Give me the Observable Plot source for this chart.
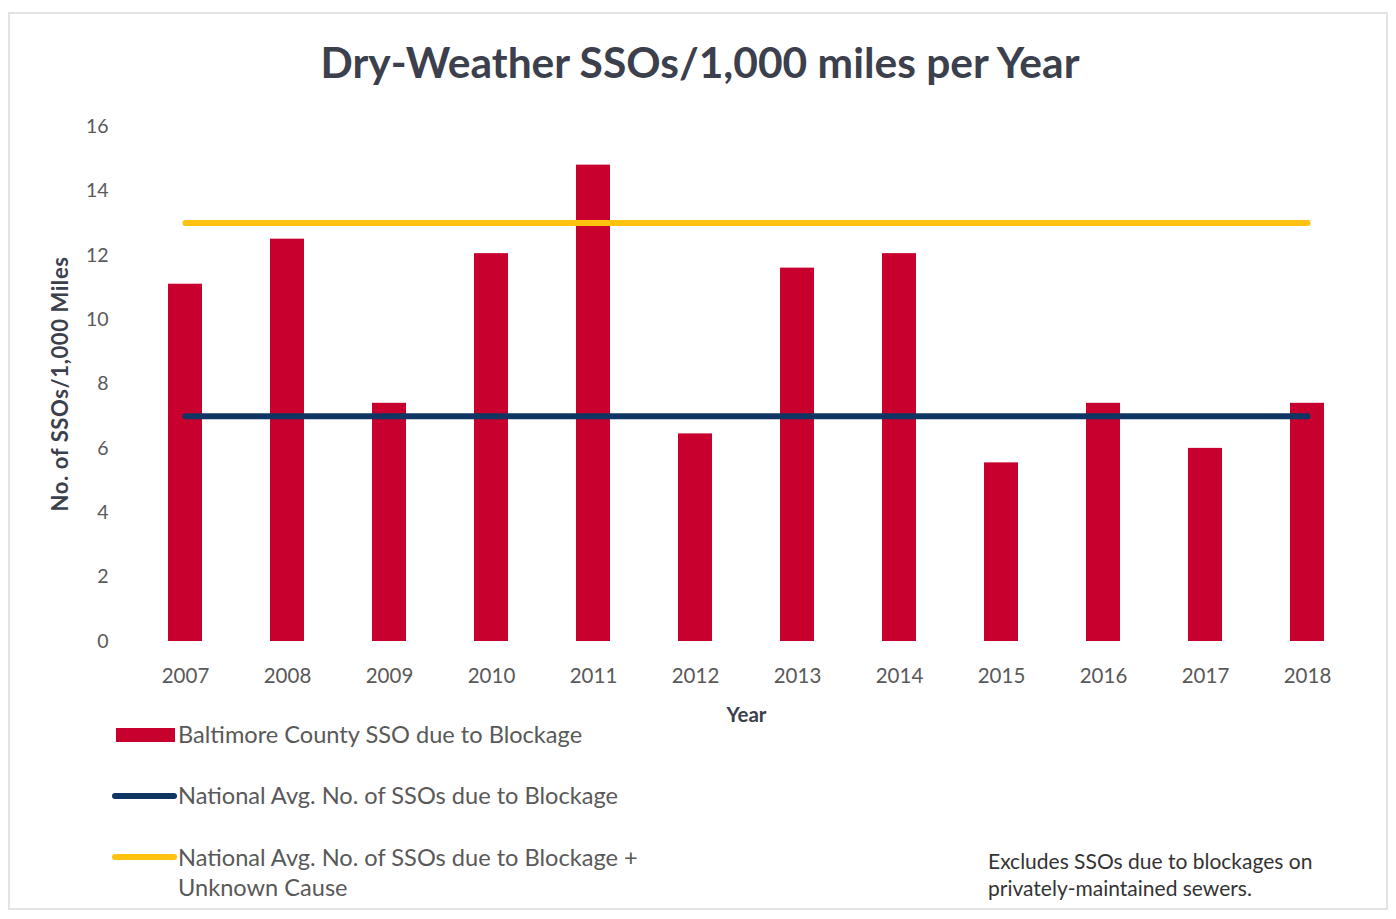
<!DOCTYPE html>
<html>
<head>
<meta charset="utf-8">
<script src="https://cdn.jsdelivr.net/npm/d3@7"></script>
<script src="https://cdn.jsdelivr.net/npm/@observablehq/plot@0.6"></script>
<style>
  html, body { margin: 0; padding: 0; background: #fff; }
  body { width: 1396px; height: 919px; position: relative; overflow: hidden; font-family: Lato, "Open Sans", sans-serif; }
  #frame { position: absolute; left: 8px; top: 12px; width: 1380px; height: 898px; border: 2px solid #e3e3e3; box-sizing: border-box; }
  #title { position: absolute; left: 0; width: 1400px; top: 36px; text-align: center; font-size: 42.5px; font-weight: bold; color: #3b404c; }
  #chart { position: absolute; left: 0; top: 100px; }
  #chart svg { overflow: visible; }
  g[aria-label="y-axis label"] text, g[aria-label="x-axis label"] text { font-weight: bold; fill: #3b404c; }
  g[aria-label="y-axis label"] text { font-size: 22px; letter-spacing: 0.6px; }
  .leg { position: absolute; font-size: 23.6px; color: #595959; line-height: 30px; }
  .sw { position: absolute; }
  #note { position: absolute; left: 988px; top: 847px; font-size: 21px; color: #333; line-height: 27px; }
</style>
</head>
<body>
<div id="frame"></div>
<div id="title">Dry-Weather SSOs/1,000 miles per Year</div>
<div id="chart"></div>

<div class="sw" style="left:116px;top:728px;width:59px;height:14px;background:#c8002d;"></div>
<div class="leg" style="left:178px;top:719px;">Baltimore County SSO due to Blockage</div>

<div class="sw" style="left:112px;top:793px;width:65px;height:6px;border-radius:3px;background:#0f3562;"></div>
<div class="leg" style="left:178px;top:780px;">National Avg. No. of SSOs due to Blockage</div>

<div class="sw" style="left:112px;top:854px;width:65px;height:6px;border-radius:3px;background:#ffc20e;"></div>
<div class="leg" style="left:178px;top:842px;">National Avg. No. of SSOs due to Blockage +<br>Unknown Cause</div>

<div id="note">Excludes SSOs due to blockages on<br>privately-maintained sewers.</div>

<script>
const years = ["2007","2008","2009","2010","2011","2012","2013","2014","2015","2016","2017","2018"];
const baltimoreSSO = [11.1, 12.5, 7.4, 12.05, 14.8, 6.45, 11.6, 12.05, 5.55, 7.4, 6.0, 7.4];
const nationalAvgBlockage = 7;
const nationalAvgBlockageUnknown = 13;
const yTicks = [0, 2, 4, 6, 8, 10, 12, 14, 16];

const bars = years.map((year, i) => ({year, value: baltimoreSSO[i]}));
const navyLine = years.map(year => ({year, value: nationalAvgBlockage}));
const goldLine = years.map(year => ({year, value: nationalAvgBlockageUnknown}));

const chart = Plot.plot({
  width: 1396,
  height: 600,
  marginLeft: 131,
  marginRight: 35,
  marginTop: 26,
  marginBottom: 59,
  style: {fontFamily: "Lato, 'Open Sans', sans-serif", fontSize: "19px", color: "#595959", background: "transparent"},
  x: {domain: years, paddingInner: 0.665, paddingOuter: 0.3325, label: null},
  y: {domain: [0, 16], ticks: yTicks, label: null},
  marks: [
    Plot.gridY(yTicks, {stroke: "#d9d9d9", strokeOpacity: 1, strokeWidth: 1.2, x1: 130, x2: 1365}),
    Plot.axisY({ticks: yTicks, tickSize: 0, tickPadding: 23, fontSize: 19.5, fill: "#595959",
      label: "No. of SSOs/1,000 Miles", labelAnchor: "center", labelArrow: "none", labelOffset: 79}),
    Plot.axisX({tickSize: 0, tickPadding: 27, fontSize: 20.5, fill: "#595959",
      label: "Year", labelAnchor: "center", labelArrow: "none", labelOffset: 80}),
    Plot.barY(bars, {x: "year", y: "value", fill: "#c8002d"}),
    Plot.lineY(goldLine, {x: "year", y: "value", stroke: "#ffc20e", strokeWidth: 6, strokeLinecap: "round"}),
    Plot.lineY(navyLine, {x: "year", y: "value", stroke: "#0f3562", strokeWidth: 6, strokeLinecap: "round"})
  ]
});
document.getElementById("chart").appendChild(chart);
</script>
</body>
</html>
